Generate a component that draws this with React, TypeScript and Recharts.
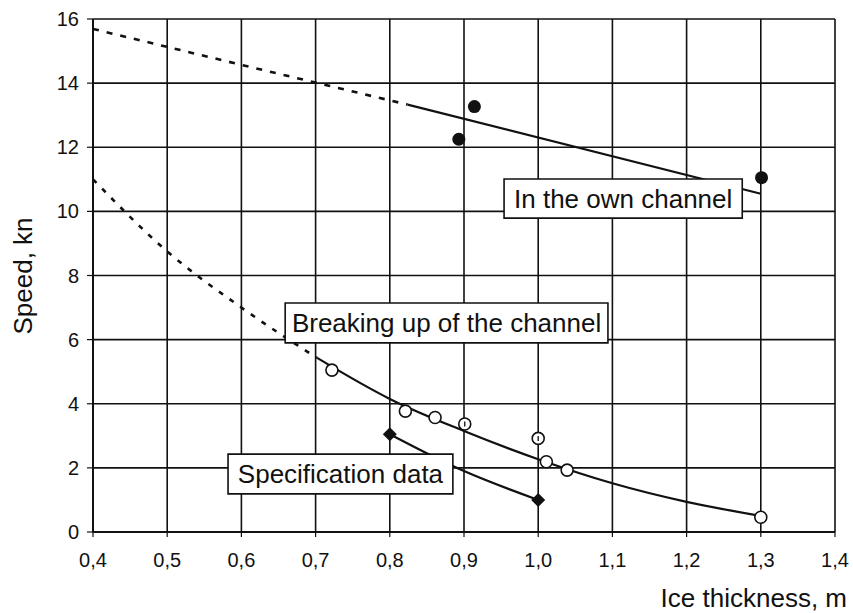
import React from 'react';
import {
  ComposedChart,
  Line,
  Scatter,
  XAxis,
  YAxis,
  CartesianGrid,
  ReferenceArea,
} from 'recharts';

// Ice thickness axis (m) and speed axis (kn)
const xTicks = [0.4, 0.5, 0.6, 0.7, 0.8, 0.9, 1.0, 1.1, 1.2, 1.3, 1.4];
const yTicks = [0, 2, 4, 6, 8, 10, 12, 14, 16];

// Own channel: measured points, fitted line and its extrapolation
const ownChannelPoints = [
  { x: 0.893, y: 12.25 },
  { x: 0.914, y: 13.27 },
  { x: 1.301, y: 11.05 },
];
const ownChannelFit = [
  { x: 0.824, y: 13.33 },
  { x: 1.3, y: 10.55 },
];
const ownChannelExtrapolated = [
  { x: 0.4, y: 15.69 },
  { x: 0.6, y: 14.57 },
  { x: 0.824, y: 13.33 },
];

// Breaking up of the channel: measured points, fitted curve, extrapolation
const breakingPoints = [
  { x: 0.722, y: 5.05, mark: false },
  { x: 0.821, y: 3.77, mark: false },
  { x: 0.861, y: 3.57, mark: false },
  { x: 0.901, y: 3.37, mark: true },
  { x: 1.0, y: 2.92, mark: true },
  { x: 1.011, y: 2.19, mark: false },
  { x: 1.039, y: 1.93, mark: false },
  { x: 1.3, y: 0.46, mark: false },
];
const breakingFit = [
  { x: 0.702, y: 5.43 },
  { x: 0.8, y: 4.15 },
  { x: 0.9, y: 3.15 },
  { x: 1.0, y: 2.27 },
  { x: 1.1, y: 1.52 },
  { x: 1.2, y: 0.94 },
  { x: 1.3, y: 0.5 },
];
const breakingExtrapolated = [
  { x: 0.4, y: 11.0 },
  { x: 0.5, y: 8.75 },
  { x: 0.6, y: 7.0 },
  { x: 0.702, y: 5.43 },
];

// Specification data
const specPoints = [
  { x: 0.8, y: 3.05 },
  { x: 1.0, y: 1.0 },
];
const specFit = [
  { x: 0.8, y: 3.05 },
  { x: 0.9, y: 1.9 },
  { x: 1.0, y: 1.0 },
];

// Caption boxes, in data units
const captions = [
  { text: 'In the own channel', x1: 0.954, x2: 1.275, y1: 9.79, y2: 11.01 },
  { text: 'Breaking up of the channel', x1: 0.659, x2: 1.094, y1: 5.9, y2: 7.14 },
  { text: 'Specification data', x1: 0.582, x2: 0.885, y1: 1.19, y2: 2.43 },
];

const FONT = '"Liberation Sans", Arial, sans-serif';
const INK = '#111';

const fmt = (v: number) => v.toFixed(1).replace('.', ',');

const FilledDot = (p: any) => <circle cx={p.cx} cy={p.cy} r={6.5} fill={INK} />;

const OpenDot = (p: any) => (
  <g>
    <circle cx={p.cx} cy={p.cy} r={6} fill="#fff" stroke={INK} strokeWidth={1.6} />
    {p.payload && p.payload.mark ? (
      <line x1={p.cx} y1={p.cy - 2.5} x2={p.cx} y2={p.cy + 2.5} stroke={INK} strokeWidth={1.3} />
    ) : null}
  </g>
);

const Diamond = (p: any) => (
  <path
    d={`M${p.cx},${p.cy - 7} L${p.cx + 7},${p.cy} L${p.cx},${p.cy + 7} L${p.cx - 7},${p.cy} Z`}
    fill={INK}
  />
);

export default function App() {
  return (
    <div style={{ position: 'absolute', left: 0, top: 0, background: '#fff', fontFamily: FONT }}>
      <ComposedChart
        width={853}
        height={613}
        margin={{ top: 19, right: 18, bottom: 31, left: 33 }}
      >
        <CartesianGrid stroke={INK} strokeWidth={1.6} strokeOpacity={1} />
        <XAxis
          type="number"
          dataKey="x"
          domain={[0.4, 1.4]}
          ticks={xTicks}
          tickFormatter={fmt}
          height={50}
          axisLine={{ stroke: INK, strokeWidth: 2 }}
          tickLine={{ stroke: INK, strokeWidth: 1.2 }}
          tickSize={5}
          tickMargin={16}
          tick={{ fill: INK, fontSize: 20, fontFamily: FONT }}
          interval={0}
          allowDataOverflow
          label={{
            content: () => (
              <text x={847} y={607} textAnchor="end" fill={INK} fontSize={26} fontFamily={FONT}>
                Ice thickness, m
              </text>
            ),
          }}
        />
        <YAxis
          type="number"
          dataKey="y"
          domain={[0, 16]}
          ticks={yTicks}
          width={60}
          axisLine={{ stroke: INK, strokeWidth: 2 }}
          tickLine={{ stroke: INK, strokeWidth: 1.2 }}
          tickSize={6}
          tickMargin={8}
          tick={{ fill: INK, fontSize: 20, fontFamily: FONT }}
          interval={0}
          allowDataOverflow
          label={{
            content: () => (
              <text
                x={32}
                y={276}
                transform="rotate(-90, 32, 276)"
                textAnchor="middle"
                fill={INK}
                fontSize={26}
                fontFamily={FONT}
              >
                Speed, kn
              </text>
            ),
          }}
        />

        <Line
          data={ownChannelExtrapolated}
          dataKey="y"
          type="linear"
          stroke={INK}
          strokeWidth={2.6}
          strokeDasharray="6 8"
          dot={false}
          activeDot={false}
          isAnimationActive={false}
        />
        <Line
          data={ownChannelFit}
          dataKey="y"
          type="linear"
          stroke={INK}
          strokeWidth={2.2}
          dot={false}
          activeDot={false}
          isAnimationActive={false}
        />
        <Line
          data={breakingExtrapolated}
          dataKey="y"
          type="monotone"
          stroke={INK}
          strokeWidth={2.6}
          strokeDasharray="5 8"
          dot={false}
          activeDot={false}
          isAnimationActive={false}
        />
        <Line
          data={breakingFit}
          dataKey="y"
          type="monotone"
          stroke={INK}
          strokeWidth={2.2}
          dot={false}
          activeDot={false}
          isAnimationActive={false}
        />
        <Line
          data={specFit}
          dataKey="y"
          type="monotone"
          stroke={INK}
          strokeWidth={2.2}
          dot={false}
          activeDot={false}
          isAnimationActive={false}
        />

        {captions.map((c) => (
          <ReferenceArea
            key={c.text}
            x1={c.x1}
            x2={c.x2}
            y1={c.y1}
            y2={c.y2}
            fill="#fff"
            fillOpacity={1}
            stroke={INK}
            strokeWidth={1.6}
            zIndex={500}
            ifOverflow="visible"
            label={{ value: c.text, position: 'center', fill: INK, fontSize: 26, fontFamily: FONT }}
          />
        ))}

        <Scatter data={ownChannelPoints} dataKey="y" shape={FilledDot} isAnimationActive={false} />
        <Scatter data={breakingPoints} dataKey="y" shape={OpenDot} isAnimationActive={false} />
        <Scatter data={specPoints} dataKey="y" shape={Diamond} isAnimationActive={false} />
      </ComposedChart>
    </div>
  );
}
